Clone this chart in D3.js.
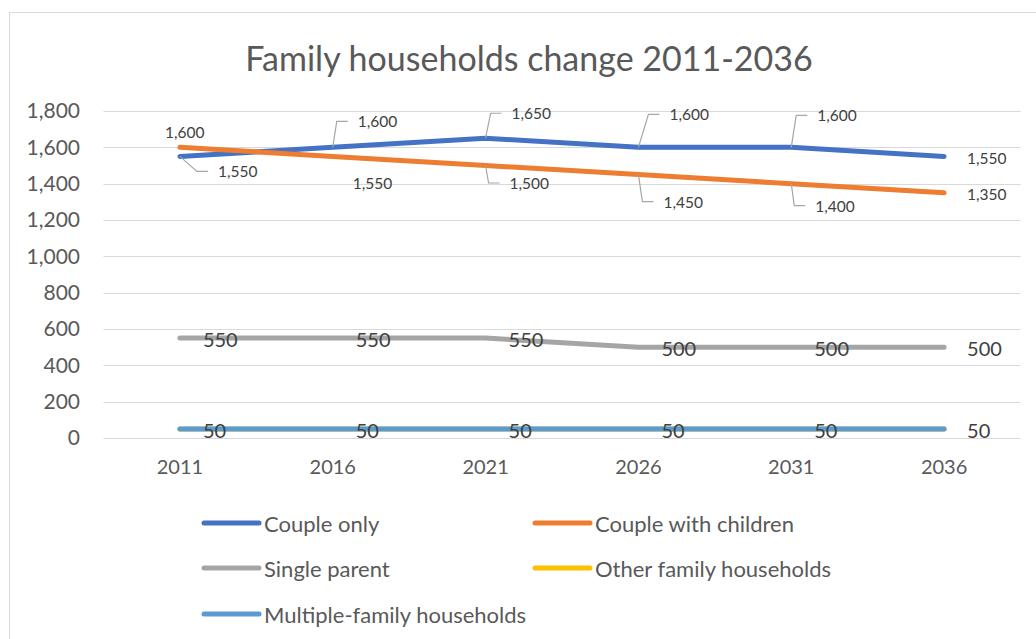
<!DOCTYPE html>
<html>
<head>
<meta charset="utf-8">
<script src="https://cdn.jsdelivr.net/npm/d3@7"></script>
<style>
  html, body { margin: 0; padding: 0; background: #fff; }
  svg { display: block; font-family: Lato, "Open Sans", sans-serif; }
</style>
</head>
<body>
<svg id="chart" width="1036" height="639"></svg>
<script>
// ---- data ----
const years = ["2011", "2016", "2021", "2026", "2031", "2036"];
const seriesNames = ["Couple only", "Couple with children", "Single parent", "Other family households", "Multiple-family households"];
const coupleOnly = [1550, 1600, 1650, 1600, 1600, 1550];
const coupleWithChildren = [1600, 1550, 1500, 1450, 1400, 1350];
const singleParent = [550, 550, 550, 500, 500, 500];
const otherFamily = [50, 50, 50, 50, 50, 50];
const multipleFamily = [50, 50, 50, 50, 50, 50];
const yTicks = [0, 200, 400, 600, 800, 1000, 1200, 1400, 1600, 1800];
const title = "Family households change 2011-2036";

// ---- styles / layout ----
const colors = ["#4472C4", "#ED7D31", "#A5A5A5", "#FFC000", "#5B9BD5"];
const seriesValues = [coupleOnly, coupleWithChildren, singleParent, otherFamily, multipleFamily];
// label placement for small labels: [dx from point to label left edge, dy, leader?]
const labelPlacement = [
  [[38, 15, true], [25, -26, true], [26, -25, true], [31, -33, true], [26, -32, true], [23, 1.5, false]],
  [[-15, -15, false], [20, 27, false], [24, 17.5, true], [25, 27, true], [24, 22, true], [23, 1, false]],
  null, null, null
];

const svg = d3.select("#chart");
const plot = { left: 103.5, right: 1020.5, top: 111, bottom: 438 };

// frame
svg.append("rect").attr("x", 9.5).attr("y", 12.5).attr("width", 1100).attr("height", 700)
  .attr("fill", "#fff").attr("stroke", "#d9d9d9").attr("stroke-width", 1);

// title
svg.append("text").attr("x", 529).attr("y", 57).attr("text-anchor", "middle")
  .attr("dominant-baseline", "central").attr("font-size", 34).attr("fill", "#595959").text(title);

const x = d3.scaleBand().domain(years).range([plot.left, plot.right]);
const cx = d => x(d) + x.bandwidth() / 2;
const y = d3.scaleLinear().domain([0, 1800]).range([plot.bottom, plot.top]);

// gridlines
svg.append("g").selectAll("line").data(yTicks).join("line")
  .attr("x1", plot.left).attr("x2", plot.right)
  .attr("y1", d => Math.round(y(d)) + 0.5).attr("y2", d => Math.round(y(d)) + 0.5)
  .attr("stroke", "#d9d9d9").attr("stroke-width", 1.2);

// y axis (labels only)
const yAxis = d3.axisLeft(y).tickValues(yTicks).tickSize(0).tickPadding(0).tickFormat(d3.format(","));
const gy = svg.append("g").attr("transform", `translate(80,0)`).call(yAxis);
gy.select(".domain").remove();
gy.selectAll("text").attr("font-size", 21).attr("fill", "#595959").attr("font-family", "Lato, sans-serif");

// x axis (labels only)
const xAxis = d3.axisBottom(x).tickSize(0).tickPadding(0);
const gx = svg.append("g").attr("transform", `translate(0,460)`).call(xAxis);
gx.select(".domain").remove();
gx.selectAll("text").attr("font-size", 20).attr("fill", "#595959").attr("font-family", "Lato, sans-serif");

// lines
const line = d3.line().x((d, i) => cx(years[i])).y(d => y(d));
const drawOrder = [0, 1, 2, 3, 4];
drawOrder.forEach(si => {
  svg.append("path").datum(seriesValues[si]).attr("d", line)
    .attr("fill", "none").attr("stroke", colors[si]).attr("stroke-width", 5)
    .attr("stroke-linecap", "round").attr("stroke-linejoin", "round");
});

// data labels
const fmt = d3.format(",");
[0, 1].forEach(si => {
  const g = svg.append("g");
  seriesValues[si].forEach((v, i) => {
    const px = cx(years[i]), py = y(v);
    const [dx, dy, leader] = labelPlacement[si][i];
    const lx = px + dx, ly = py + dy;
    if (leader) {
      g.append("polyline")
        .attr("points", `${px},${py} ${lx - 21},${ly} ${lx - 10},${ly}`)
        .attr("fill", "none").attr("stroke", "#a6a6a6").attr("stroke-width", 1.2);
    }
    g.append("text").attr("x", lx).attr("y", ly).attr("dominant-baseline", "central")
      .attr("font-size", 15.5).attr("fill", "#404040").text(fmt(v));
  });
});
[2, 4].forEach(si => {
  svg.append("g").selectAll("text").data(seriesValues[si]).join("text")
    .attr("x", (d, i) => cx(years[i]) + 23).attr("y", d => y(d) + 1)
    .attr("dominant-baseline", "central").attr("font-size", 20).attr("fill", "#404040")
    .text(d => fmt(d));
});

// legend
const legendItems = [
  { i: 0, x: 204, y: 523 }, { i: 1, x: 535, y: 523 },
  { i: 2, x: 204, y: 568 }, { i: 3, x: 535, y: 568 },
  { i: 4, x: 204, y: 614 }
];
const lg = svg.append("g");
legendItems.forEach(it => {
  lg.append("line").attr("x1", it.x).attr("x2", it.x + 55).attr("y1", it.y).attr("y2", it.y)
    .attr("stroke", colors[it.i]).attr("stroke-width", 5).attr("stroke-linecap", "round");
  lg.append("text").attr("x", it.x + 60).attr("y", it.y).attr("dominant-baseline", "central")
    .attr("font-size", 22).attr("fill", "#595959").text(seriesNames[it.i]);
});
</script>
</body>
</html>
